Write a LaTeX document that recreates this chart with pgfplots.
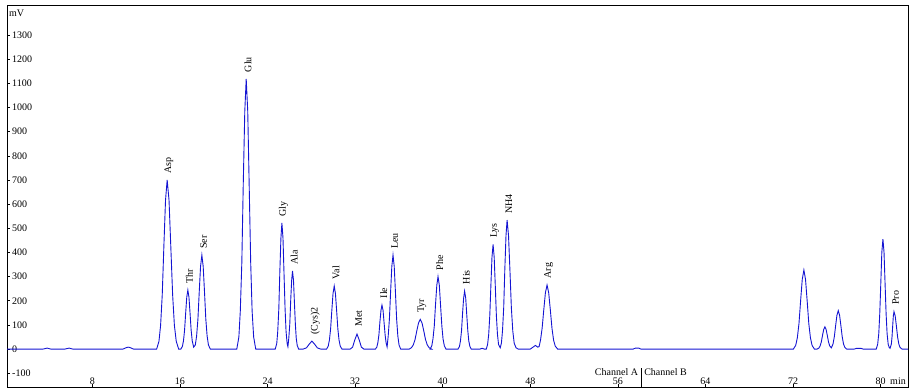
\documentclass[border=0pt]{standalone}
\usepackage{fontspec}
\setmainfont{Liberation Serif}
\usepackage{pgfplots}
\pgfplotsset{compat=1.18}
\definecolor{trace}{RGB}{20,20,210}
\begin{document}
\begin{tikzpicture}
\useasboundingbox (-7pt,-4pt) rectangle (907pt,387pt);
\begin{axis}[
  at={(0,0)}, anchor=south west,
  width=901pt, height=382pt, scale only axis,
  xmin=0.2, xmax=82.5, ymin=-157, ymax=1424,
  axis line style={black, line width=0.9pt},
  xtick={8,16,...,80}, ytick={-100,0,...,1300},
  tick align=inside, major tick length=3pt,
  xtick pos=bottom, ytick pos=left,
  tick style={black, line width=0.5pt},
  /pgf/number format/assume math mode=true,
  /pgf/number format/1000 sep={},
  ticklabel style={font=\fontsize{10}{12}\selectfont},
  yticklabel style={anchor=west, inner sep=1pt, xshift=4pt},
  xticklabel style={anchor=south, inner sep=1pt, yshift=1pt},
  clip=false,
]
\addplot[trace, line width=0.9pt] coordinates {
(0.2,0) (3.5,0) (3.86,4) (4.2,0) (5.5,0) (5.87,4) (6.2,0)
(10.8,0) (11.1,6) (11.26,8) (11.45,6) (11.75,0)
(13.87,0) (14.08,32) (14.23,98) (14.38,224) (14.53,427) (14.68,616) (14.83,700)
(15.0,616) (15.16,427) (15.33,224) (15.49,98) (15.66,32) (15.88,0)
(16.08,0) (16.22,11) (16.32,34) (16.42,78) (16.52,149) (16.62,215) (16.72,244)
(16.82,215) (16.92,149) (17.02,78) (17.12,34) (17.25,8)
(17.4,17) (17.52,54) (17.64,124) (17.76,237) (17.88,342) (18.0,389)
(18.12,342) (18.24,237) (18.36,124) (18.48,54) (18.6,17) (18.77,0)
(21.19,0) (21.38,50) (21.51,157) (21.65,358) (21.78,682) (21.92,984) (22.05,1118)
(22.19,984) (22.32,682) (22.46,358) (22.59,157) (22.73,50) (22.92,0)
(24.7,0) (24.84,23) (24.93,73) (25.03,167) (25.12,318) (25.22,459) (25.31,522)
(25.41,459) (25.5,318) (25.6,167) (25.69,73) (25.79,23) (25.86,10)
(25.94,45) (26.03,103) (26.11,197) (26.2,284) (26.28,323)
(26.37,284) (26.45,197) (26.54,103) (26.62,45) (26.71,15) (26.84,0)
(27.25,0) (27.55,5) (27.8,20) (28.05,33) (28.3,20) (28.55,5) (28.85,0)
(29.39,0) (29.54,12) (29.65,37) (29.76,84) (29.87,159) (29.98,230) (30.09,261)
(30.2,230) (30.31,159) (30.42,84) (30.53,37) (30.64,12) (30.8,0)
(31.55,0) (31.77,8) (31.97,38) (32.17,62) (32.37,38) (32.57,8) (32.8,0)
(33.85,0) (33.98,8) (34.07,25) (34.17,58) (34.26,111) (34.36,160) (34.45,182)
(34.55,160) (34.64,111) (34.74,58) (34.83,25) (34.92,9)
(35.02,54) (35.13,124) (35.24,237) (35.35,342) (35.46,389)
(35.57,342) (35.68,237) (35.79,124) (35.9,54) (36.01,17) (36.16,0)
(36.95,0) (37.15,6) (37.31,17) (37.47,39) (37.63,75) (37.79,108) (37.95,123)
(38.11,108) (38.27,75) (38.43,39) (38.59,17) (38.75,6) (38.98,0)
(38.85,0) (39.0,13) (39.11,42) (39.23,96) (39.34,183) (39.46,264) (39.57,300)
(39.69,264) (39.8,183) (39.92,96) (40.03,42) (40.15,13) (40.3,0)
(41.4,0) (41.53,11) (41.62,34) (41.72,77) (41.81,146) (41.91,211) (42.0,240)
(42.1,211) (42.19,146) (42.29,77) (42.38,34) (42.48,11) (42.6,0)
(43.4,0) (43.6,3) (43.8,0)
(43.98,0) (44.1,19) (44.2,61) (44.3,139) (44.4,264) (44.5,381) (44.6,433)
(44.7,381) (44.8,264) (44.9,139) (45.0,61) (45.1,19) (45.25,5)
(45.36,24) (45.46,75) (45.57,171) (45.67,326) (45.78,470) (45.88,534)
(46.01,470) (46.14,326) (46.27,171) (46.4,75) (46.53,24) (46.7,5) (46.9,0)
(48.0,0) (48.25,8) (48.47,15) (48.68,8) (48.8,10)
(48.93,36) (49.08,86) (49.23,162) (49.38,233) (49.53,265)
(49.68,233) (49.83,162) (49.98,86) (50.13,36) (50.28,12) (50.5,0)
(57.4,0) (57.6,4) (57.9,4) (58.1,0)
(72.03,0) (72.24,15) (72.39,46) (72.54,105) (72.69,199) (72.84,288) (72.99,327)
(73.14,288) (73.29,199) (73.44,105) (73.59,46) (73.74,15) (73.95,0)
(74.2,0) (74.36,4) (74.47,13) (74.58,29) (74.69,56) (74.8,81) (74.91,92)
(75.02,81) (75.13,56) (75.24,29) (75.35,13) (75.5,5)
(75.65,21) (75.77,51) (75.89,97) (76.01,140) (76.13,159)
(76.25,140) (76.37,97) (76.49,51) (76.61,21) (76.73,7) (76.9,0)
(77.6,0) (77.8,3) (78.2,3) (78.4,0)
(79.6,0) (79.73,20) (79.83,64) (79.92,146) (80.02,278) (80.11,401) (80.21,455)
(80.31,401) (80.4,278) (80.5,146) (80.59,64) (80.69,20) (80.78,7) (80.86,3)
(80.98,21) (81.04,50) (81.1,95) (81.16,137) (81.22,155)
(81.33,137) (81.44,95) (81.55,50) (81.66,21) (81.77,7) (81.95,0) (82.5,0)
};
\tikzset{pk/.style={rotate=90, anchor=west, inner sep=0pt, font=\fontsize{10}{12}\selectfont}}
\node[pk] at (axis cs:14.98,725) {Asp};
\node[pk] at (axis cs:16.87,272) {Thr};
\node[pk] at (axis cs:18.15,415) {Ser};
\node[pk] at (axis cs:22.2,1145) {Glu};
\node[pk] at (axis cs:25.46,548) {Gly};
\node[pk] at (axis cs:26.43,350) {Ala};
\node[pk] at (axis cs:28.35,60) {(Cys)2};
\node[pk] at (axis cs:30.24,288) {Val};
\node[pk] at (axis cs:32.32,92) {Met};
\node[pk] at (axis cs:34.6,210) {Ile};
\node[pk] at (axis cs:35.61,415) {Leu};
\node[pk] at (axis cs:38.1,150) {Tyr};
\node[pk] at (axis cs:39.72,326) {Phe};
\node[pk] at (axis cs:42.15,268) {His};
\node[pk] at (axis cs:44.75,460) {Lys};
\node[pk] at (axis cs:46.03,560) {NH4};
\node[pk] at (axis cs:49.68,292) {Arg};
\node[pk] at (axis cs:81.37,182) {Pro};
\draw[black, line width=0.6pt] (axis cs:58.1,-79) -- (axis cs:58.1,-157);
\node[anchor=east, inner sep=1pt, font=\fontsize{10}{12}\selectfont] at (axis cs:57.95,-95) {Channel A};
\node[anchor=west, inner sep=1pt, font=\fontsize{10}{12}\selectfont] at (axis cs:58.3,-95) {Channel B};
\node[anchor=south east, inner sep=1pt, font=\fontsize{10}{12}\selectfont] at (rel axis cs:1,0) [yshift=1pt,xshift=-1pt] {min};
\node[anchor=north west, inner sep=1pt, font=\fontsize{10}{12}\selectfont] at (rel axis cs:0,1) [xshift=1pt,yshift=-4pt] {mV};
\end{axis}
\end{tikzpicture}
\end{document}
